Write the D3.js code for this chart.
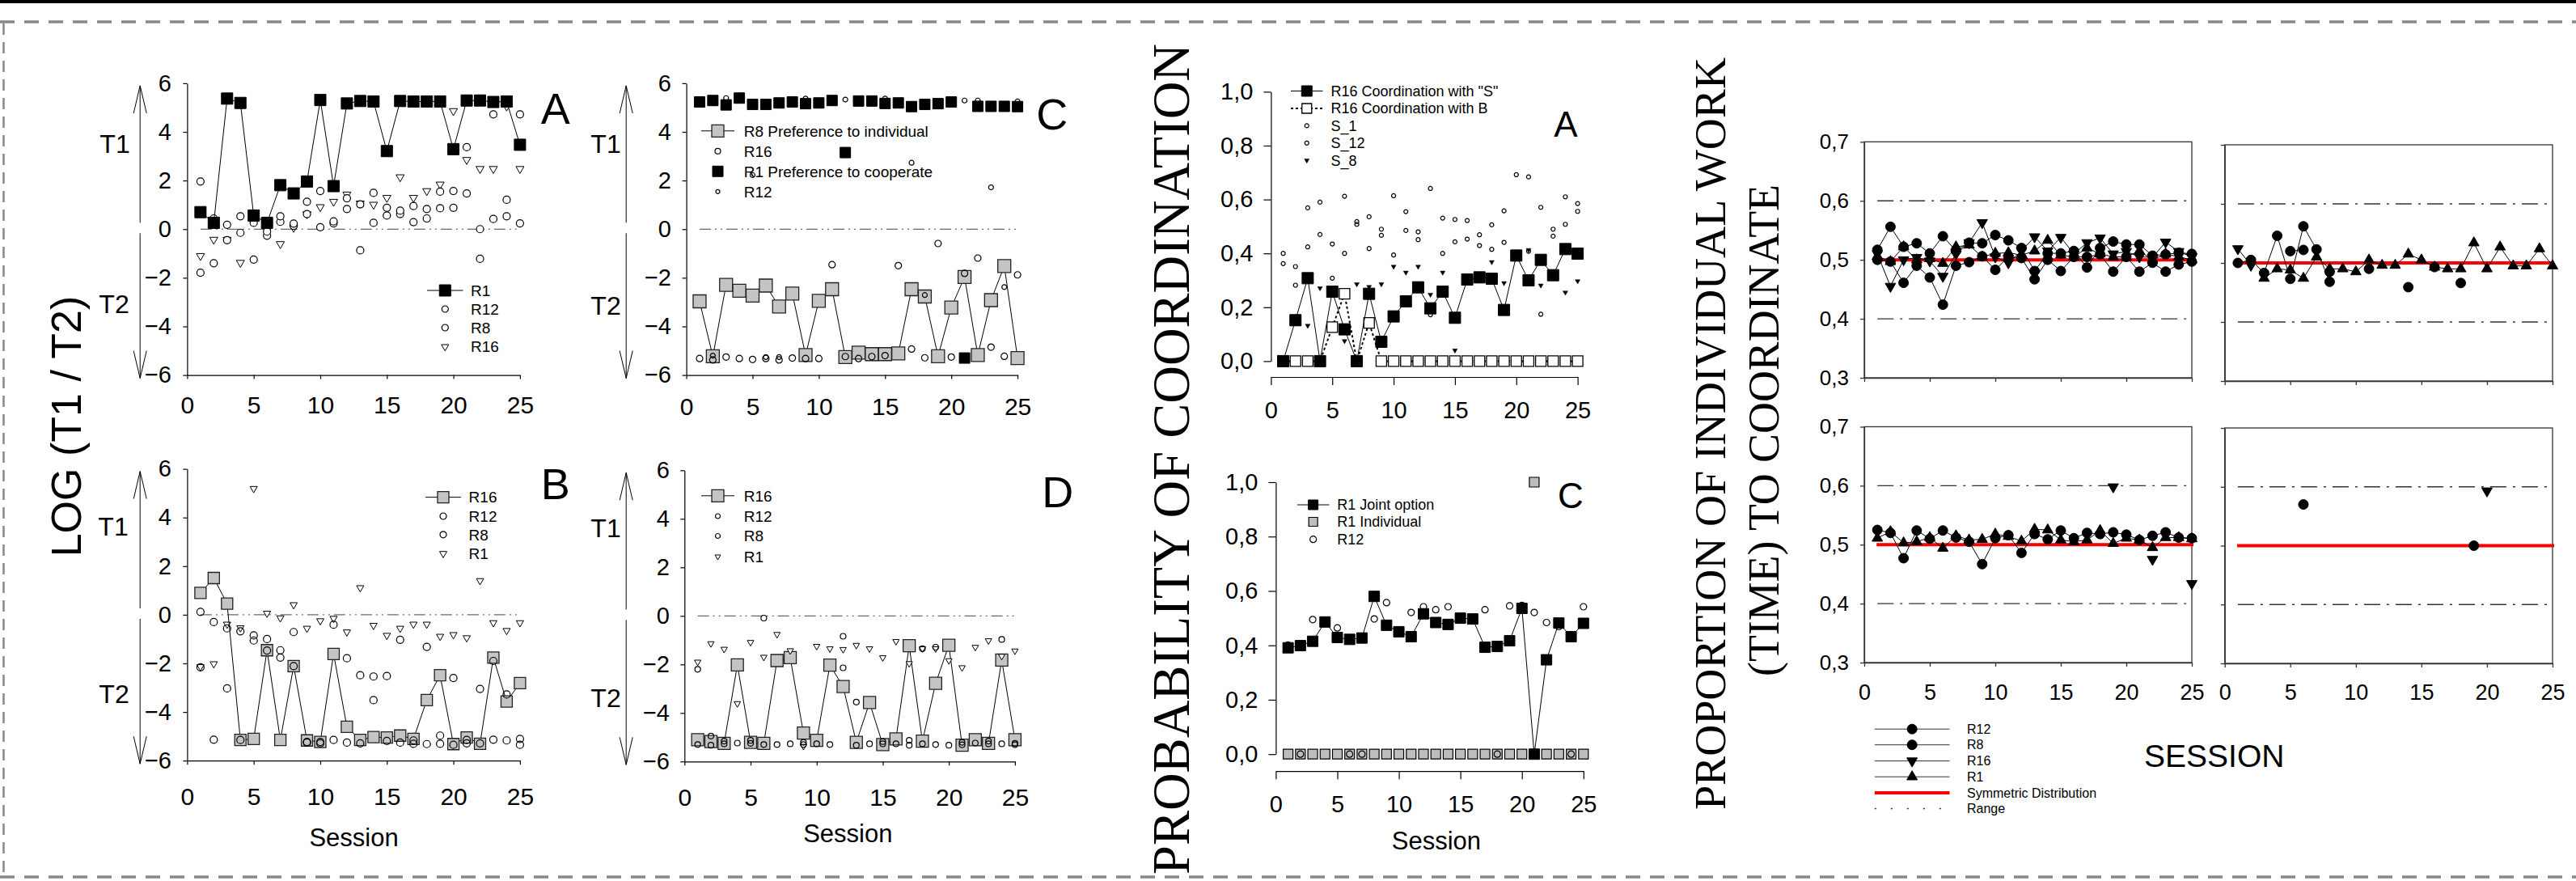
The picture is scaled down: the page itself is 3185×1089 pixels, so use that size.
<!DOCTYPE html>
<html><head><meta charset="utf-8">
<script src="https://cdn.jsdelivr.net/npm/d3@7"></script>
<style>
body{margin:0;background:#fff}
svg{display:block}
text{font-family:"Liberation Sans",Arial,sans-serif;fill:#000}
.serif{font-family:"Liberation Serif","Times New Roman",serif}
</style>
</head><body>
<svg id="c" width="3185" height="1089"></svg>
<script>
// ---------------- DATA ----------------
const xTicks = [0,5,10,15,20,25];
const logTicks = [-6,-4,-2,0,2,4,6];
const probTicks = [0,0.2,0.4,0.6,0.8,1.0];
const propTicks = [0.3,0.4,0.5,0.6,0.7];

// Left block, panel A (log T1/T2)
const logA_R1  = [0.70,0.26,5.37,5.19,0.56,0.26,1.81,1.47,1.96,5.31,1.77,5.17,5.27,5.25,3.21,5.27,5.25,5.25,5.25,3.29,5.29,5.29,5.23,5.25,3.47];
const logA_R12 = [1.96,0.44,0.18,0.53,0.26,-0.10,0.53,0.23,1.13,1.57,0.32,1.27,1.02,1.49,0.88,0.76,0.95,0.83,1.54,1.57,3.37,0.00,4.72,1.21,4.72];
const logA_R8  = [-1.79,-1.40,-0.45,-0.15,-1.25,-0.27,0.30,0.14,0.62,0.08,0.24,0.83,-0.87,0.26,0.56,0.62,0.29,0.44,0.86,0.88,1.47,-1.22,0.42,0.53,0.24];
const logA_R16 = [-1.10,-0.43,-0.43,-1.38,0.40,-0.05,-0.61,0.06,0.62,0.91,1.13,1.43,1.06,1.01,1.29,2.14,1.29,1.57,1.84,4.86,2.85,2.48,2.48,5.05,2.48];
// panel B
const logB_R16 = [0.90,1.51,0.46,-5.15,-5.11,-1.46,-5.15,-2.11,-5.17,-5.23,-1.61,-4.61,-5.15,-5.03,-5.05,-4.97,-5.11,-3.51,-2.49,-5.32,-5.05,-5.31,-1.76,-3.57,-2.81];
const logB_R12 = [0.12,-0.30,-0.56,-0.68,-0.85,-1.00,-1.46,-0.71,-5.23,-5.23,-0.41,-1.79,-2.49,-2.54,-2.52,-1.03,-5.17,-1.32,-4.97,-2.60,-5.15,-3.05,-1.90,-3.28,-5.11];
const logB_R8  = [-2.16,-5.14,-3.03,-5.15,-1.06,-1.47,-1.76,-2.11,-5.26,-5.29,-5.15,-5.26,-5.29,-3.51,-5.19,-5.26,-5.31,-5.32,-5.31,-5.35,-5.29,-5.29,-5.14,-5.17,-5.35];
const logB_R1  = [-2.14,-2.02,-0.39,-0.54,5.19,0.06,-0.13,0.41,-0.56,-0.25,-0.15,-0.71,1.11,-0.44,-0.85,-0.56,-0.39,-0.39,-0.89,-0.82,-0.95,1.40,-0.33,-0.65,-0.33];
// panel C
const logC_R8  = [-2.97,-5.23,-2.29,-2.53,-2.73,-2.32,-3.18,-2.65,-5.18,-2.95,-2.47,-5.26,-5.08,-5.14,-5.14,-5.11,-2.47,-2.77,-5.23,-3.22,-1.97,-5.18,-2.92,-1.52,-5.30];
const logC_R1  = [5.23,5.29,5.11,5.39,5.13,5.13,5.19,5.23,5.16,5.19,5.29,3.15,5.27,5.27,5.17,5.19,5.04,5.13,5.16,5.23,-5.30,5.05,5.05,5.05,5.04];
const logC_R16 = [-5.32,-5.38,-5.26,-5.32,-5.36,-5.32,-5.38,-5.30,-5.32,-5.32,-1.46,-5.24,-5.32,-5.24,-5.20,-1.50,-4.93,-5.29,-0.59,-5.26,-1.82,-1.19,-4.85,-5.23,-1.88];
const logC_R12 = [null,-5.20,5.39,null,2.22,-5.26,-5.26,null,5.37,null,null,5.33,null,null,5.37,null,2.73,-2.71,null,null,5.29,5.29,1.72,-2.38,5.25];
// panel D
const logD_R16 = [-5.10,-5.18,-5.25,-2.02,-5.21,-5.25,-1.84,-1.72,-4.83,-5.13,-2.03,-2.91,-5.21,-3.57,-5.30,-5.07,-1.23,-5.16,-2.78,-1.21,-5.33,-5.10,-5.25,-1.82,-5.10];
const logD_R12 = [-2.20,-4.95,-5.16,-5.24,-5.13,-0.09,-5.30,-5.27,-5.21,-5.27,-5.30,-0.84,-3.55,-5.27,-5.18,-5.27,-5.13,-1.35,-1.29,-5.33,-5.21,-5.24,-5.16,-0.97,-5.25];
const logD_R8  = [-5.30,-5.33,-5.27,null,-5.25,-5.30,null,null,-5.30,null,null,-2.14,-5.33,null,-5.27,null,-5.33,-5.27,-5.30,null,-5.31,null,-5.27,-5.27,-5.31];
const logD_R1  = [-1.90,-1.14,-1.37,-3.61,-1.09,-1.70,-0.76,-1.43,-5.37,-1.25,-1.35,-1.38,-1.21,-1.35,-1.72,-1.05,-1.96,-1.35,-1.35,-1.84,-2.13,-1.29,-1.02,-1.66,-1.44];

// Middle block, panel A (probability of coordination)
const probA_R16S = [0,0.152,0.308,0,0.258,0.118,0,0.25,0.072,0.166,0.222,0.274,0.196,0.258,0.161,0.303,0.311,0.306,0.19,0.392,0.30,0.376,0.319,0.416,0.399];
const probA_R16B = [0,0,0,0,0.126,0.25,0,0.142,0,0,0,0,0,0,0,0,0,0,0,0,0,0,0,0,0];
const probA_S1   = [0.40,0.351,0.569,0.59,0.435,0.612,0.518,0.536,0.49,0.614,0.555,0.48,0.641,0.531,0.526,0.522,0.469,0.506,0.558,0.692,0.684,0.571,0.49,0.61,0.585];
const probA_S12  = [0.362,0.282,0.424,0.47,0.308,0.40,0.508,0.418,0.467,0.394,0.485,0.451,0.172,0.40,0.443,0.453,0.429,0.415,0.441,0.39,0.408,0.174,0.464,0.508,0.556];
const probA_S8   = [null,0,0.132,0.271,null,0.075,0.286,0.276,0.286,0.351,0.329,0.351,0.247,0.329,0.04,null,null,0.368,0.29,null,0.413,0.281,null,0.255,0.297];
// panel C
const probC_R1J = [0.391,0.399,0.415,0.486,0.429,0.422,0.427,0.58,0.474,0.45,0.432,0.516,0.484,0.477,0.50,0.497,0.393,0.396,0.417,0.536,0,0.347,0.482,0.432,0.481];
const probC_R1I = [0,0,0,0,0,0,0,0,0,0,0,0,0,0,0,0,0,0,0,0,1.0,0,0,0,0];
const probC_R12 = [0.401,0,0.495,null,0.464,0,0,0.497,0.557,null,0.521,0.542,0.531,0.542,null,null,0.531,0,0.545,0.547,0.521,0.484,0.469,0,0.542];

// Right block (proportion of individual work)
const propTL_R12 = [0.517,0.556,0.522,0.528,0.511,0.540,0.515,0.529,0.528,0.542,0.533,0.520,0.481,0.511,0.511,0.515,0.487,0.520,0.531,0.526,0.526,0.507,0.509,0.512,0.510];
const propTL_R8  = [0.500,0.497,0.461,0.490,0.470,0.424,0.490,0.496,0.506,0.483,0.505,0.503,0.467,0.500,0.481,0.505,0.505,0.509,0.480,0.505,0.480,0.495,0.480,0.492,0.497];
const propTL_R16 = [0.510,0.455,0.500,0.504,0.498,0.472,0.510,0.529,0.563,0.505,0.495,0.515,0.539,0.515,0.538,0.510,0.529,0.537,0.510,0.514,0.505,0.504,0.530,0.514,0.505];
const propTL_R1  = [0.506,0.497,0.522,0.500,0.502,0.494,0.522,0.525,0.505,0.511,0.512,0.508,0.515,0.533,0.508,0.505,0.520,0.510,0.505,0.505,0.515,0.500,0.510,0.505,0.500];
const propTR_R12 = [0.500,0.505,0.483,0.546,0.473,0.562,0.523,0.468,null,null,null,null,null,null,null,null,null,null,null,null,null,null,null,null,null];
const propTR_R8  = [null,null,null,null,0.520,0.522,null,0.485,null,null,0.490,null,null,0.459,null,0.493,null,0.466,null,null,null,null,null,null,null];
const propTR_R16 = [0.524,0.496,null,null,null,null,null,null,null,null,null,null,null,null,null,null,null,null,null,null,null,null,null,null,null];
const propTR_R1  = [null,null,0.474,0.490,0.488,0.474,0.510,0.490,0.490,0.485,0.505,0.496,0.496,0.515,0.505,0.493,0.490,0.490,0.534,0.490,0.527,0.495,0.495,0.524,0.495];
const propBL_R12 = [0.525,0.520,0.477,0.524,0.510,0.524,0.512,0.505,0.467,0.511,0.516,0.486,0.518,0.509,0.524,0.511,0.520,0.518,0.521,0.517,0.508,0.515,0.521,0.512,0.511];
const propBL_R16 = [null,null,null,null,null,null,null,null,null,null,null,null,null,null,null,null,null,null,0.598,null,null,0.475,null,null,0.434];
const propBL_R1  = [0.511,0.522,0.503,0.505,0.512,0.494,0.515,0.508,0.509,0.518,0.514,0.506,0.526,0.525,0.508,0.505,0.508,0.524,0.502,0.511,0.508,0.495,0.512,0.512,0.510];
const propBR_R12 = [null,null,null,null,null,0.570,null,null,null,null,null,null,null,null,null,null,null,null,0.500,null,null,null,null,null,null];
const propBR_R16 = [null,null,null,null,null,null,null,null,null,null,null,null,null,null,null,null,null,null,null,0.593,null,null,null,null,null];

// ---------------- DRAWING ----------------
const W = 3185, H = 1089;
const svg = d3.select('#c');

// frame
svg.append('rect').attr('x',0).attr('y',0).attr('width',W).attr('height',4).attr('fill','#000');
svg.append('line').attr('x1',0).attr('x2',W).attr('y1',27).attr('y2',27).attr('stroke','#888').attr('stroke-width',3.5).attr('stroke-dasharray','18,12');
svg.append('line').attr('x1',0).attr('x2',W).attr('y1',1084).attr('y2',1084).attr('stroke','#888').attr('stroke-width',3.5).attr('stroke-dasharray','18,12');
svg.append('line').attr('x1',4.5).attr('x2',4.5).attr('y1',29).attr('y2',1082).attr('stroke','#888').attr('stroke-width',2.5).attr('stroke-dasharray','14,9');

function symPath(type, size){
  if(type==='square') return d3.symbol(d3.symbolSquare, size*size)();
  if(type==='circle') return d3.symbol(d3.symbolCircle, Math.PI*size*size/4)();
  return d3.symbol(d3.symbolTriangle, Math.sqrt(3)/4*size*size)();
}
function tf(type, cx, cy){ return `translate(${cx},${cy})` + (type==='tridown' ? ' rotate(180)' : ''); }
function drawMarker(g, st, cx, cy){
  g.append('path').attr('d', symPath(st.type, st.size)).attr('transform', tf(st.type,cx,cy))
    .attr('fill', st.fill==='none' ? '#fff' : st.fill).attr('stroke', st.stroke).attr('stroke-width', st.sw||1);
}
function drawSeries(g, x, y, data, st){
  const pts = data.map((v,i)=>({s:i+1, v:v}));
  if(st.line){
    g.append('path').datum(pts)
      .attr('d', d3.line().defined(d=>d.v!=null).x(d=>x(d.s)).y(d=>y(d.v)))
      .attr('fill','none').attr('stroke', st.lineColor||'#000').attr('stroke-width', st.lineWidth||1)
      .attr('stroke-dasharray', st.dash||null);
  }
  g.selectAll(null).data(pts.filter(d=>d.v!=null)).join('path')
    .attr('d', symPath(st.type, st.size))
    .attr('transform', d=>tf(st.type, x(d.s), y(d.v)))
    .attr('fill', st.fill).attr('stroke', st.stroke).attr('stroke-width', st.sw||1);
}
function drawLegend(g, L){
  L.items.forEach((it,i)=>{
    const yy = L.rows[i];
    if(it.line) g.append('line').attr('x1',L.lx0).attr('x2',L.lx1).attr('y1',yy).attr('y2',yy)
      .attr('stroke', it.lineColor||'#000').attr('stroke-width', it.lineWidth||1).attr('stroke-dasharray', it.dash||null);
    if(it.st) drawMarker(g, it.st, (L.lx0+L.lx1)/2, yy);
    g.append('text').attr('x',L.tx).attr('y',yy).attr('dy','0.36em').attr('font-size',L.fs).text(it.label);
  });
}
function arrowV(g, x, y1, y2){
  const d = y2 > y1 ? 1 : -1;
  g.append('line').attr('x1',x).attr('x2',x).attr('y1',y1).attr('y2',y2).attr('stroke','#000').attr('stroke-width',1);
  g.append('path').attr('d', `M${x-8},${y2-d*34} L${x},${y2} L${x+8},${y2-d*34}`).attr('fill','none').attr('stroke','#000').attr('stroke-width',1);
}

// styles
const sqBlack = (s)=>({type:'square', size:s, fill:'#000', stroke:'#000'});
const sqGray  = (s)=>({type:'square', size:s, fill:'#c4c4c4', stroke:'#222', sw:1.3});
const circOpen= (s)=>({type:'circle', size:s, fill:'none', stroke:'#000', sw:1.2});
const triOpen = (s)=>({type:'tridown', size:s, fill:'#fff', stroke:'#000', sw:1});

// ---------- LOG PANELS ----------
function logPanel(P){
  const g = svg.append('g');
  const x = d3.scaleLinear().domain([0,25]).range([P.x0, P.x1]);
  const y = d3.scaleLinear().domain([-6,6]).range([P.yBot, P.yTop]);
  g.append('line').attr('x1',x(1)).attr('x2',x(25)).attr('y1',y(0)).attr('y2',y(0))
    .attr('stroke','#444').attr('stroke-width',1).attr('stroke-dasharray','14,5,2,5,2,5');
  const ya = g.append('g').attr('transform',`translate(${P.x0},0)`)
    .call(d3.axisLeft(y).tickValues(logTicks).tickSizeInner(5).tickSizeOuter(0).tickFormat(d3.format('d')));
  ya.selectAll('text').attr('x', -(P.x0 - P.labelRight)).attr('font-size',29).attr('font-family','Liberation Sans');
  const xa = g.append('g').attr('transform',`translate(0,${P.yBot})`)
    .call(d3.axisBottom(x).tickValues(xTicks).tickSizeInner(5).tickSizeOuter(0));
  xa.selectAll('text').attr('y', P.tickY - P.yBot).attr('dy','0.36em').attr('font-size',30).attr('font-family','Liberation Sans');
  g.selectAll('.domain, .tick line').attr('stroke','#000').attr('stroke-width',1.2);
  g.append('text').attr('x',P.T1[0]).attr('y',P.T1[1]).attr('dy','0.36em').attr('text-anchor','middle').attr('font-size',32).text('T1');
  g.append('text').attr('x',P.T2[0]).attr('y',P.T2[1]).attr('dy','0.36em').attr('text-anchor','middle').attr('font-size',32).text('T2');
  arrowV(g, P.arrowX, y(0)-8, y(6)+3);
  arrowV(g, P.arrowX, y(0)+5, y(-6)+4);
  P.series.forEach(s=>drawSeries(g, x, y, s.data, s.st));
  drawLegend(g, P.legend);
  g.append('text').attr('x',P.letter[1]).attr('y',P.letter[2]).attr('dy','0.36em').attr('text-anchor','middle').attr('font-size',54).text(P.letter[0]);
  if(P.session) g.append('text').attr('x',P.session[0]).attr('y',P.session[1]).attr('dy','0.36em').attr('text-anchor','middle').attr('font-size',31).text('Session');
}

logPanel({x0:231.4, x1:642.9, yTop:102.9, yBot:463.6, tickY:500, labelRight:212, arrowX:173.2,
  T1:[142,177], T2:[141,375], letter:['A',686.7,134], session:null,
  series:[
    {data:logA_R16, st:triOpen(10)},
    {data:logA_R8,  st:Object.assign(circOpen(9),{fill:'#fff'})},
    {data:logA_R12, st:Object.assign(circOpen(9),{fill:'#fff'})},
    {data:logA_R1,  st:Object.assign(sqBlack(14),{line:true})}
  ],
  legend:{lx0:528, lx1:572.6, tx:582, fs:19, rows:[359,382,405,428.6], items:[
    {label:'R1', line:true, st:sqBlack(14)},
    {label:'R12', st:circOpen(8)},
    {label:'R8', st:circOpen(8)},
    {label:'R16', st:triOpen(9)}
  ]}
});
logPanel({x0:231.4, x1:642.9, yTop:579.6, yBot:940.2, tickY:984, labelRight:212, arrowX:173.2,
  T1:[140,650], T2:[141,857], letter:['B',686.7,598], session:[437.6,1035],
  series:[
    {data:logB_R1,  st:triOpen(9)},
    {data:logB_R16, st:Object.assign(sqGray(14),{line:true})},
    {data:logB_R12, st:circOpen(9)},
    {data:logB_R8,  st:circOpen(9)}
  ],
  legend:{lx0:526, lx1:570, tx:579.6, fs:19, rows:[614.6,638,660.8,684.3], items:[
    {label:'R16', line:true, st:sqGray(14)},
    {label:'R12', st:circOpen(8)},
    {label:'R8', st:circOpen(8)},
    {label:'R1', st:triOpen(9)}
  ]}
});
logPanel({x0:848.6, x1:1258.1, yTop:102.9, yBot:463.6, tickY:502, labelRight:830, arrowX:774.2,
  T1:[749,177], T2:[749,377], letter:['C',1300.8,141], session:null,
  series:[
    {data:logC_R8,  st:Object.assign(sqGray(16),{line:true})},
    {data:logC_R1,  st:sqBlack(13)},
    {data:logC_R16, st:circOpen(8)},
    {data:logC_R12, st:circOpen(6)}
  ],
  legend:{lx0:867, lx1:908, tx:919.7, fs:19, rows:[161.8,186.8,211.8,236.8], items:[
    {label:'R8 Preference to individual', line:true, st:sqGray(15)},
    {label:'R16', st:circOpen(7)},
    {label:'R1 Preference to cooperate', st:sqBlack(13)},
    {label:'R12', st:circOpen(5)}
  ]}
});
logPanel({x0:846.3, x1:1254.9, yTop:581.3, yBot:941.3, tickY:985, labelRight:828, arrowX:774.2,
  T1:[749,652], T2:[749,862], letter:['D',1307.7,608], session:[1048.3,1030],
  series:[
    {data:logD_R16, st:Object.assign(sqGray(15),{line:true})},
    {data:logD_R1,  st:triOpen(8)},
    {data:logD_R12, st:circOpen(7)},
    {data:logD_R8,  st:circOpen(7)}
  ],
  legend:{lx0:867, lx1:908, tx:919.7, fs:19, rows:[612.8,638,662.5,688], items:[
    {label:'R16', line:true, st:sqGray(15)},
    {label:'R12', st:circOpen(6)},
    {label:'R8', st:circOpen(6)},
    {label:'R1', st:triOpen(7)}
  ]}
});
svg.append('text').attr('transform','translate(100,527) rotate(-90)').attr('text-anchor','middle').attr('font-size',52).text('LOG (T1 / T2)');

// ---------- MIDDLE PANELS ----------
const commaFmt = d=>d3.format('.1f')(d).replace('.',',');
function probPanel(P){
  const g = svg.append('g');
  const x = d3.scaleLinear().domain([0,25]).range([P.x0, P.x1]);
  const y = d3.scaleLinear().domain([0,1]).range([P.y0, P.y1]);
  const ya = g.append('g').attr('transform',`translate(${P.x0},0)`)
    .call(d3.axisLeft(y).tickValues(probTicks).tickSizeInner(9).tickSizeOuter(0).tickFormat(commaFmt));
  ya.selectAll('text').attr('x',-22).attr('font-size',29);
  const xa = g.append('g').attr('transform',`translate(0,${P.xAxisY})`)
    .call(d3.axisBottom(x).tickValues(xTicks).tickSizeInner(10).tickSizeOuter(0));
  xa.selectAll('text').attr('y', P.tickY - P.xAxisY).attr('dy','0.36em').attr('font-size',29);
  g.selectAll('.domain, .tick line').attr('stroke','#000').attr('stroke-width',1.2);
  P.series.forEach(s=>drawSeries(g, x, y, s.data, s.st));
  drawLegend(g, P.legend);
  g.append('text').attr('x',P.letter[1]).attr('y',P.letter[2]).attr('dy','0.36em').attr('text-anchor','middle').attr('font-size',44).text(P.letter[0]);
  if(P.session) g.append('text').attr('x',P.session[0]).attr('y',P.session[1]).attr('dy','0.36em').attr('text-anchor','middle').attr('font-size',31).text('Session');
}
probPanel({x0:1571.4, x1:1950.6, y0:446.4, y1:113.4, xAxisY:466, tickY:507, letter:['A',1936,153.6], session:null,
  series:[
    {data:probA_S1,  st:circOpen(5)},
    {data:probA_S12, st:circOpen(5)},
    {data:probA_S8,  st:{type:'tridown', size:6, fill:'#000', stroke:'#000', sw:0.5}},
    {data:probA_R16B, st:{type:'square', size:13, fill:'#fff', stroke:'#000', sw:1.3, line:true, dash:'3,3', lineWidth:2}},
    {data:probA_R16S, st:Object.assign(sqBlack(14),{line:true})}
  ],
  legend:{lx0:1596, lx1:1635.5, tx:1645.4, fs:18, rows:[112.5,134,155.4,176.8,198.2], items:[
    {label:'R16 Coordination with "S"', line:true, st:sqBlack(13)},
    {label:'R16 Coordination with B', line:true, dash:'3,3', lineWidth:2, st:{type:'square', size:12, fill:'#fff', stroke:'#000', sw:1.3}},
    {label:'S_1', st:circOpen(5)},
    {label:'S_12', st:circOpen(5)},
    {label:'S_8', st:{type:'tridown', size:6, fill:'#000', stroke:'#000', sw:0.5}}
  ]}
});
probPanel({x0:1577.4, x1:1957.8, y0:932.2, y1:596, xAxisY:953.2, tickY:993.4, letter:['C',1942,611.8], session:[1775.9,1039],
  series:[
    {data:probC_R1I, st:{type:'square', size:12, fill:'#bdbdbd', stroke:'#000', sw:1.2}},
    {data:probC_R12, st:circOpen(8)},
    {data:probC_R1J, st:Object.assign(sqBlack(13),{line:true})}
  ],
  legend:{lx0:1603.9, lx1:1643.4, tx:1653.3, fs:18, rows:[624,645,666.7], items:[
    {label:'R1 Joint option', line:true, st:sqBlack(12)},
    {label:'R1 Individual', st:{type:'square', size:11, fill:'#bdbdbd', stroke:'#000', sw:1.2}},
    {label:'R12', st:circOpen(8)}
  ]}
});
svg.append('text').attr('class','serif').attr('transform','translate(1470,567.5) rotate(-90)').attr('text-anchor','middle')
  .attr('font-size',65).attr('textLength',1027).attr('lengthAdjust','spacingAndGlyphs').text('PROBABILITY OF COORDINATION');

// ---------- RIGHT PANELS ----------
const circB = {type:'circle', size:12, fill:'#000', stroke:'#000'};
const triDB = {type:'tridown', size:13, fill:'#000', stroke:'#000'};
const triUB = {type:'tri', size:13, fill:'#000', stroke:'#000'};
function propPanel(P){
  const g = svg.append('g');
  const x = d3.scaleLinear().domain([0,25]).range([P.x0, P.x1]);
  const y = d3.scaleLinear().domain([0.3,0.7]).range([P.yBot, P.yTop]);
  g.append('rect').attr('x',P.x0).attr('y',P.yTop).attr('width',P.x1-P.x0).attr('height',P.yBot-P.yTop)
    .attr('fill','none').attr('stroke','#333').attr('stroke-width',1.3);
  const ya = g.append('g').attr('transform',`translate(${P.x0},0)`)
    .call(d3.axisLeft(y).tickValues(propTicks).tickSizeInner(5).tickSizeOuter(0).tickFormat(P.yLabels ? commaFmt : ''));
  ya.selectAll('text').attr('x',-19).attr('font-size',26);
  const xa = g.append('g').attr('transform',`translate(0,${P.yBot})`)
    .call(d3.axisBottom(x).tickValues(xTicks).tickSizeInner(5).tickSizeOuter(0).tickFormat(P.xLabels ? d3.format('d') : ''));
  xa.selectAll('text').attr('y', 855 - P.yBot).attr('dy','0.36em').attr('font-size',27);
  g.selectAll('.domain, .tick line').attr('stroke','#333').attr('stroke-width',1.3);
  [0.4,0.6].forEach(v=>g.append('line').attr('x1',x(1)).attr('x2',x(25)-4).attr('y1',y(v)).attr('y2',y(v))
    .attr('stroke','#333').attr('stroke-width',1.3).attr('stroke-dasharray','20,8,3,8'));
  g.append('line').attr('x1',x(1)-1).attr('x2',x(25)+2).attr('y1',y(0.5)).attr('y2',y(0.5))
    .attr('stroke','#ff0000').attr('stroke-width',4);
  P.series.forEach(s=>drawSeries(g, x, y, s.data, s.st));
}
propPanel({x0:2305, x1:2710, yTop:175.3, yBot:467, yLabels:true, xLabels:false, series:[
  {data:propTL_R8,  st:Object.assign({},circB,{line:true})},
  {data:propTL_R1,  st:Object.assign({},triUB,{line:true})},
  {data:propTL_R16, st:Object.assign({},triDB,{line:true})},
  {data:propTL_R12, st:Object.assign({},circB,{line:true})}
]});
propPanel({x0:2750.7, x1:3156, yTop:179, yBot:471, yLabels:false, xLabels:false, series:[
  {data:propTR_R1,  st:Object.assign({},triUB,{line:true})},
  {data:propTR_R8,  st:Object.assign({},circB,{line:true})},
  {data:propTR_R16, st:Object.assign({},triDB,{line:true})},
  {data:propTR_R12, st:Object.assign({},circB,{line:true})}
]});
propPanel({x0:2305, x1:2710, yTop:527.5, yBot:819, yLabels:true, xLabels:true, series:[
  {data:propBL_R1,  st:Object.assign({},triUB,{line:true})},
  {data:propBL_R12, st:Object.assign({},circB,{line:true})},
  {data:propBL_R16, st:triDB}
]});
propPanel({x0:2750.7, x1:3156, yTop:529, yBot:820, yLabels:false, xLabels:true, series:[
  {data:propBR_R12, st:circB},
  {data:propBR_R16, st:triDB}
]});
drawLegend(svg.append('g'), {lx0:2317.8, lx1:2410.5, tx:2432, fs:16, rows:[901.2,920.7,940.6,960.2,980.1,999.6], items:[
  {label:'R12', line:true, lineColor:'#333', st:circB},
  {label:'R8', line:true, lineColor:'#333', st:circB},
  {label:'R16', line:true, lineColor:'#333', st:triDB},
  {label:'R1', line:true, lineColor:'#333', st:triUB},
  {label:'Symmetric Distribution', line:true, lineColor:'#ff0000', lineWidth:4},
  {label:'Range', line:true, lineColor:'#333', lineWidth:1.5, dash:'2,18'}
]});
svg.append('text').attr('x',2737.7).attr('y',934).attr('dy','0.36em').attr('text-anchor','middle').attr('font-size',39).text('SESSION');
svg.append('text').attr('class','serif').attr('transform','translate(2133,536) rotate(-90)').attr('text-anchor','middle')
  .attr('font-size',54).attr('textLength',930).attr('lengthAdjust','spacingAndGlyphs').text('PROPORTION OF INDIVIDUAL WORK');
svg.append('text').attr('class','serif').attr('transform','translate(2199,532) rotate(-90)').attr('text-anchor','middle')
  .attr('font-size',54).attr('textLength',608).attr('lengthAdjust','spacingAndGlyphs').text('(TIME) TO COORDINATE');
</script>
</body></html>
